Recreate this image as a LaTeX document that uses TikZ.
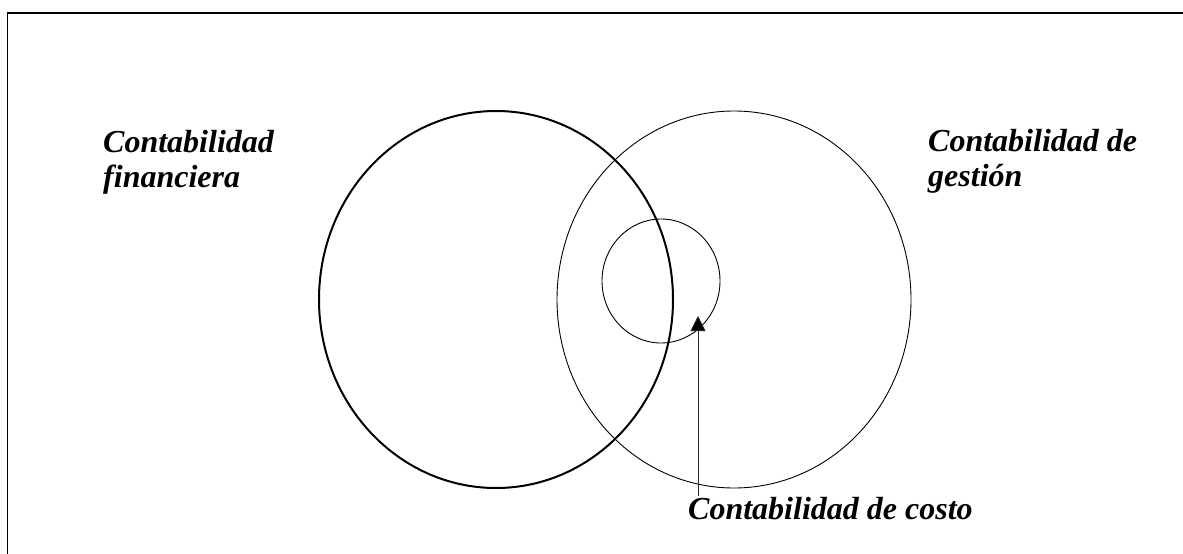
\documentclass[tikz,border=0pt]{standalone}
\usepackage{fontspec}
\setmainfont{Liberation Serif}
\usepackage{xcolor}
\usepackage{tikz}
\usetikzlibrary{shapes.geometric, arrows.meta, positioning}
\definecolor{pInk}{RGB}{0,0,0}
\definecolor{pLead}{RGB}{40,40,40}
\tikzset{
  ring/.style={
    ellipse, draw=pInk, line width=0.9pt,
    minimum width=354pt, minimum height=377pt, inner sep=0pt
  },
  thickring/.style={ring, line width=2pt},
  smallring/.style={ring, minimum width=118pt, minimum height=124pt},
  caption/.style={
    font=\fontsize{32}{35}\selectfont\bfseries\itshape,
    align=left, inner sep=0pt, anchor=base west
  },
  pointer/.style={-{Triangle[length=15pt, width=15pt, fill=pInk]}, pLead, line width=0.8pt},
  frameline/.style={pInk, line width=1.8pt}
}
\begin{document}
\begin{tikzpicture}[x=1pt,y=-1pt]
\useasboundingbox (0,0) rectangle (1183,554);
\coordinate (frameTL) at (7.5,12.7);
\coordinate (frameTR) at (1183,12.7);
\coordinate (frameBL) at (7.5,554);
\draw[frameline] (frameBL) -- (frameTL) -- (frameTR);
\node[thickring] (financiera) at (496,299.5) {};
\node[ring] (gestion) at (734,299.5) {};
\node[smallring] (costo) at (661,281) {};
\node[caption] (labelFin) at (103,187) {Contabilidad\\financiera};
\node[caption] (labelGes) at (928,186) {Contabilidad de\\gestión};
\node[caption] (labelCos) at (688,519) {Contabilidad de costo};
\coordinate (costoTip) at (698,316);
\draw[pointer] (labelCos.north west -| costoTip) ++(0,-1) -- (costoTip);
\end{tikzpicture}
\end{document}
